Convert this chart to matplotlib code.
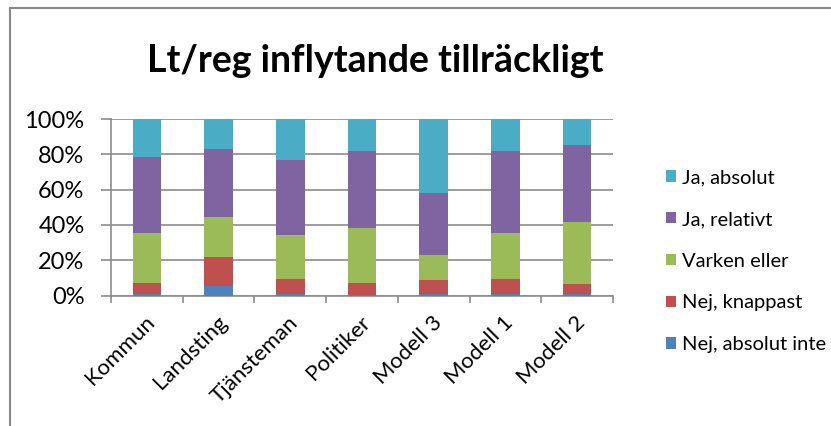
import numpy as np
import matplotlib.pyplot as plt
from matplotlib.patches import Patch

categories = ["Kommun", "Landsting", "Tjänsteman", "Politiker", "Modell 3", "Modell 1", "Modell 2"]
nej_absolut_inte = [0.6, 5.3, 1.1, 0.4, 1.1, 0.6, 1.1]
nej_knappast = [6.6, 16.5, 8.0, 6.6, 7.6, 8.7, 5.5]
varken_eller = [28.3, 22.6, 24.9, 31.3, 14.1, 26.0, 35.0]
ja_relativt = [43.2, 38.7, 42.7, 43.7, 35.5, 46.3, 43.8]
ja_absolut = [21.3, 16.9, 23.3, 18.0, 41.7, 18.4, 14.6]

series = [
    ("Nej, absolut inte", nej_absolut_inte, "#4F81BD"),
    ("Nej, knappast", nej_knappast, "#C0504D"),
    ("Varken eller", varken_eller, "#9BBB59"),
    ("Ja, relativt", ja_relativt, "#8064A2"),
    ("Ja, absolut", ja_absolut, "#4BACC6"),
]

font = ["Lato", "DejaVu Sans"]
plt.rcParams['font.family'] = font

fig = plt.figure(figsize=(8.31, 4.26), dpi=100)
ax = fig.add_axes([111 / 831, 130.5 / 426, 502 / 831, 176.5 / 426])

x = np.arange(len(categories))
bottom = np.zeros(len(categories))
for name, vals, color in series:
    vals = np.array(vals)
    ax.bar(x, vals, bottom=bottom, width=0.4, color=color, edgecolor="none", zorder=3)
    bottom += vals

ax.set_xlim(-0.5, len(categories) - 0.5)
ax.set_ylim(0, 100)
ax.set_yticks(range(0, 101, 20))
ax.set_yticklabels([f"{v}%" for v in range(0, 101, 20)], fontsize=17, color="black")
ax.yaxis.grid(True, color="#8c8c8c", linewidth=1.2, zorder=0)

ax.set_xticks(np.arange(len(categories) + 1) - 0.5)
ax.set_xticklabels([])
ax.set_xticks(x + 0.07, minor=True)
ax.set_xticklabels(categories, minor=True, rotation=45, ha="right", va="center",
                   rotation_mode="anchor", fontsize=16)
ax.tick_params(axis="x", which="minor", length=0, pad=17)
ax.tick_params(axis="x", which="major", length=5, color="#8c8c8c", width=1.2)
ax.tick_params(axis="y", length=7, color="#8c8c8c", width=1.2, pad=12)

for side in ["top", "right"]:
    ax.spines[side].set_visible(False)
for side in ["left", "bottom"]:
    ax.spines[side].set_color("#8c8c8c")
    ax.spines[side].set_linewidth(1.2)

fig.text(375 / 831, 1 - 72 / 426, "Lt/reg inflytande tillräckligt", ha="center", va="baseline",
         fontsize=27, fontweight="bold")

handles = [Patch(facecolor=c, label=n) for n, _, c in series][::-1]
fig.legend(handles=handles, loc="upper left", bbox_to_anchor=(648 / 831, 1 - 151 / 426),
           frameon=False, fontsize=14.5, handlelength=0.5, handleheight=0.5,
           handletextpad=0.3, labelspacing=1.23)

# chart border (only left and top show in the crop)
fig.add_artist(plt.Line2D([9.5 / 831, 9.5 / 831], [0, 1 - 8 / 426], color="#888888", linewidth=1.5))
fig.add_artist(plt.Line2D([9.5 / 831, 1], [1 - 8 / 426, 1 - 8 / 426], color="#888888", linewidth=1.5))

fig.savefig("out.png", dpi=100)
